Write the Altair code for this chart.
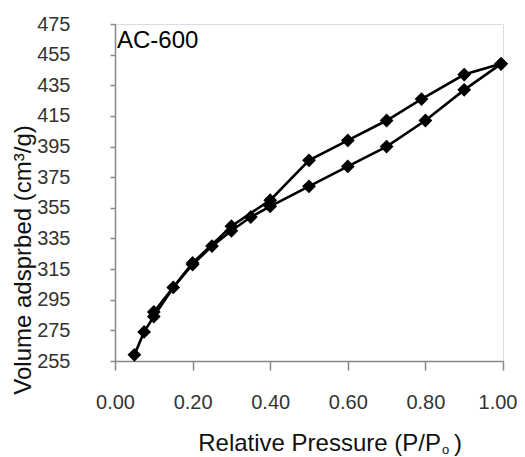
import altair as alt
import pandas as pd

ads_p = [0.05, 0.075, 0.10, 0.15, 0.20, 0.25, 0.30, 0.35, 0.40, 0.50, 0.60, 0.70, 0.80, 0.90, 0.995]
ads_v = [259, 274, 284, 303, 318, 330, 340, 349, 356, 369, 382, 395, 412, 432, 449]
des_p = [0.995, 0.90, 0.79, 0.70, 0.60, 0.50, 0.40, 0.30, 0.20, 0.10]
des_v = [449, 442, 426, 412, 399, 386, 360, 343, 319, 287]

y_ticks = list(range(255, 476, 20))
x_ticks = [0.0, 0.2, 0.4, 0.6, 0.8, 1.0]

rows = []
for i, (p, v) in enumerate(zip(ads_p, ads_v)):
    rows.append({"P": p, "V": v, "branch": "ads", "ord": i})
for i, (p, v) in enumerate(zip(des_p, des_v)):
    rows.append({"P": p, "V": v, "branch": "des", "ord": i})
df = pd.DataFrame(rows)

FONT = "Liberation Sans"
W, H = 388, 337

x = alt.X("P:Q", scale=alt.Scale(domain=[0, 1], nice=False),
          axis=alt.Axis(values=x_ticks, format=".2f", title=None, grid=False,
                        domainColor="#888888", tickColor="#888888", tickSize=9,
                        labelFontSize=20, labelFont=FONT, labelColor="#333333",
                        labelPadding=22, domainWidth=1.5, tickWidth=1.5,
                        labelFlush=False,
                        labelAlign=alt.expr("datum.value >= 1 ? 'right' : 'center'"),
                        labelOffset=alt.expr("datum.value >= 1 ? 14 : 0")))
y = alt.Y("V:Q", scale=alt.Scale(domain=[255, 475], nice=False, zero=False),
          axis=alt.Axis(values=y_ticks, format="d", title=None, grid=False,
                        domainColor="#888888", tickColor="#888888", tickSize=5,
                        labelFontSize=20, labelFont=FONT, labelColor="#333333",
                        labelPadding=40, domainWidth=1.5, tickWidth=1.5,
                        labelFlush=False))

line = alt.Chart(df).mark_line(color="black", strokeWidth=2.6).encode(
    x=x, y=y, detail="branch:N", order="ord:Q")
pts = alt.Chart(df).mark_point(shape="diamond", filled=True, color="black",
                               size=190, opacity=1).encode(x=x, y=y)

def txt(t, px, py, size, align="left", angle=0, color="#111111"):
    return alt.Chart(pd.DataFrame({"t": [t]})).mark_text(
        text=t, fontSize=size, font=FONT, align=align, baseline="alphabetic",
        angle=angle, color=color).encode(x=alt.value(px), y=alt.value(py))

label = txt("AC-600", 2, 24, 24, color="black")
xt1 = txt("Relative Pressure (P/P", 326, 427, 24, align="right")
xt2 = txt("o", 327, 430, 13)
xt3 = txt(")", 339, 427, 24)
yt = txt("Volume adsprbed (cm³/g)", -84, 236, 24, align="center", angle=270)

chart = alt.layer(line, pts, label, xt1, xt2, xt3, yt).properties(
    width=W, height=H,
    autosize=alt.AutoSizeParams(type="none"),
    padding={"left": 107, "top": 16, "right": 14, "bottom": 96},
).configure_view(stroke="black", strokeWidth=1.5).configure(background="white")

chart.save("out.html", embed_options={"renderer": "svg", "actions": False})
